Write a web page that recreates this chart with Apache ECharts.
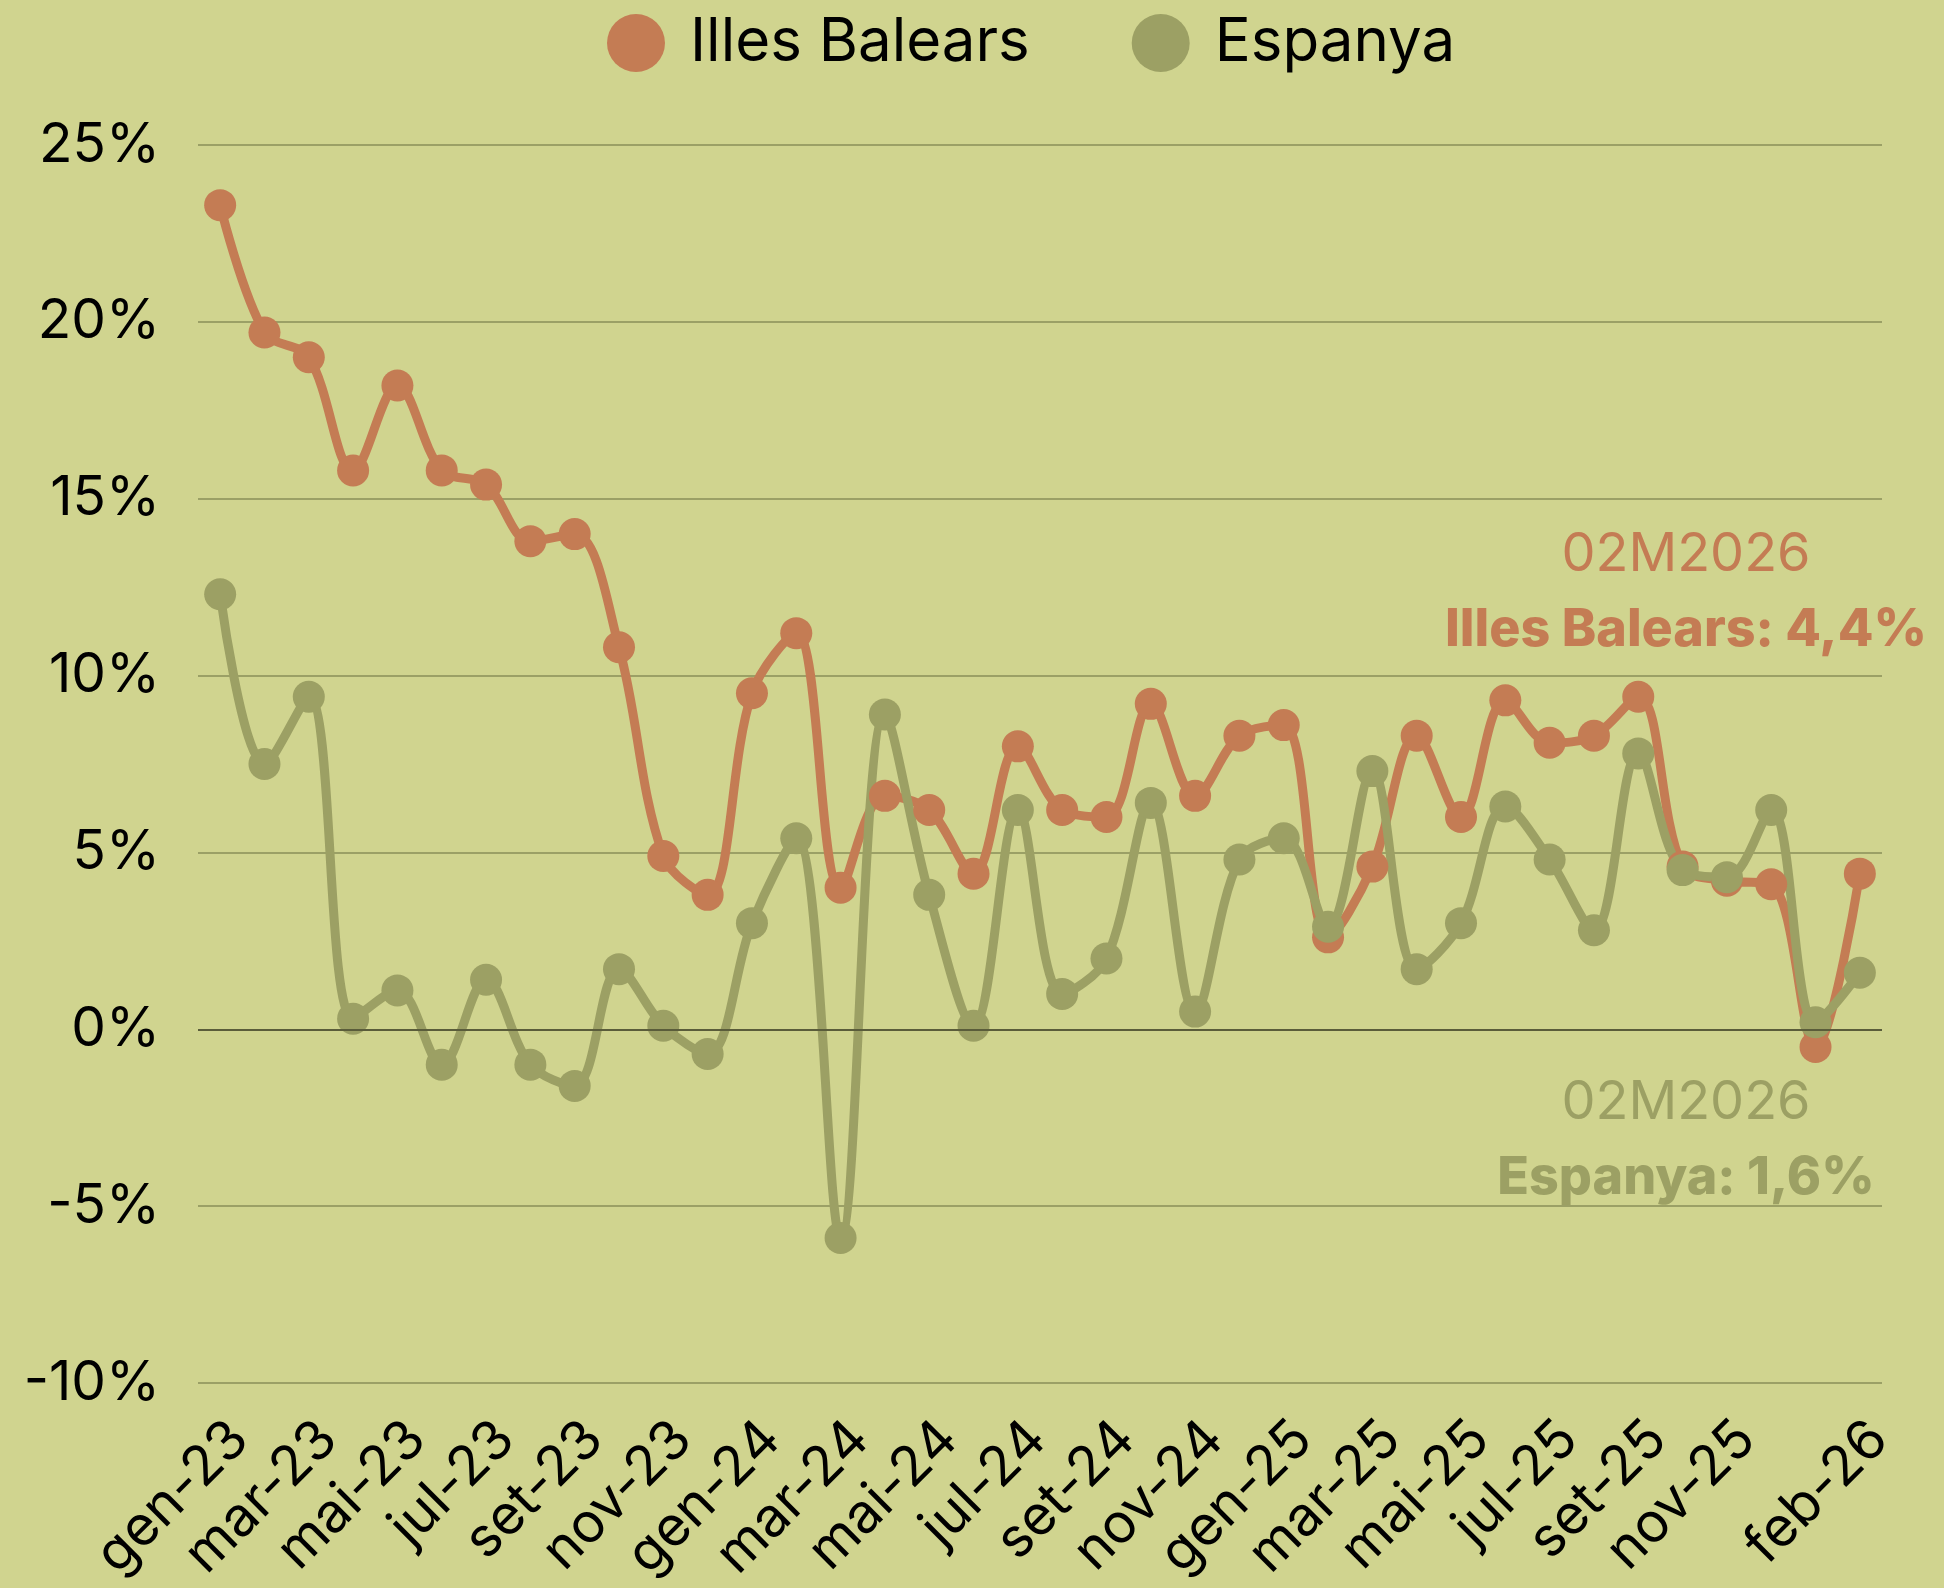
<!DOCTYPE html>
<html>
<head>
<meta charset="utf-8">
<script src="https://cdn.jsdelivr.net/npm/echarts@6/dist/echarts.min.js"></script>
<style>
  html, body { margin: 0; padding: 0; background: #d0d48f; }
  #chart { width: 1944px; height: 1588px; }
</style>
</head>
<body>
<div id="chart"></div>
<script>
  const months = ['gen-23','feb-23','mar-23','abr-23','mai-23','jun-23','jul-23','ago-23','set-23','oct-23','nov-23','des-23',
    'gen-24','feb-24','mar-24','abr-24','mai-24','jun-24','jul-24','ago-24','set-24','oct-24','nov-24','des-24',
    'gen-25','feb-25','mar-25','abr-25','mai-25','jun-25','jul-25','ago-25','set-25','oct-25','nov-25','des-25',
    'gen-26','feb-26']
  const balears = [23.3,19.7,19.0,15.8,18.2,15.8,15.4,13.8,14.0,10.8,4.9,3.8,
    9.5,11.2,4.0,6.6,6.2,4.4,8.0,6.2,6.0,9.2,6.6,8.3,
    8.6,2.6,4.6,8.3,6.0,9.3,8.1,8.3,9.4,4.6,4.2,4.1,
    -0.5,4.4]
  const espanya = [12.3,7.5,9.4,0.3,1.1,-1.0,1.4,-1.0,-1.6,1.7,0.1,-0.7,
    3.0,5.4,-5.9,8.9,3.8,0.1,6.2,1.0,2.0,6.4,0.5,4.8,
    5.4,2.9,7.3,1.7,3.0,6.3,4.8,2.8,7.8,4.5,4.3,6.2,
    0.2,1.6]
  const yTicks = {min: -10, max: 25, step: 5}

  const orange = '#c47c54'
  const green = '#9ca064'
  const font = 'Inter'

  const chart = echarts.init(document.getElementById('chart'))
  chart.setOption({
    backgroundColor: '#d0d48f',
    textStyle: { fontFamily: font },
    legend: {
      top: 8,
      left: 602,
      icon: 'circle',
      itemWidth: 58,
      itemHeight: 58,
      itemGap: 102,
      textStyle: { fontSize: 60, color: '#000', fontFamily: font, padding: [0, 0, 0, 20] },
      data: ['Illes Balears', 'Espanya']
    },
    grid: { left: 198, right: 62, top: 145, bottom: 205 },
    xAxis: {
      type: 'category',
      data: months,
      boundaryGap: true,
      axisLine: { show: false },
      axisTick: { show: false },
      axisLabel: {
        rotate: 45,
        margin: 28,
        fontSize: 55,
        color: '#000',
        verticalAlign: 'top',
        interval: (i) => (i % 2 === 0 && i !== 36) || i === 37
      }
    },
    yAxis: {
      type: 'value',
      min: yTicks.min,
      max: yTicks.max,
      interval: yTicks.step,
      axisLabel: { formatter: '{value}%', fontSize: 55, color: '#000', margin: 38 },
      splitLine: { lineStyle: { color: '#9ba066', width: 2 } }
    },
    graphic: [
      { type: 'text', x: 1686, y: 555, style: { text: '02M2026', fill: orange, font: '400 54px Inter', align: 'center', verticalAlign: 'middle' } },
      { type: 'text', x: 1686, y: 630, style: { text: 'Illes Balears: 4,4%', fill: orange, font: '800 52px Inter', align: 'center', verticalAlign: 'middle' } },
      { type: 'text', x: 1686, y: 1103, style: { text: '02M2026', fill: green, font: '400 54px Inter', align: 'center', verticalAlign: 'middle' } },
      { type: 'text', x: 1686, y: 1178, style: { text: 'Espanya: 1,6%', fill: green, font: '800 52px Inter', align: 'center', verticalAlign: 'middle' } }
    ],
    series: [
      {
        name: 'Illes Balears',
        type: 'line',
        data: balears,
        smooth: 0.35,
        symbol: 'circle',
        symbolSize: 32,
        showAllSymbol: true,
        itemStyle: { color: orange },
        lineStyle: { color: orange, width: 9 },
        markLine: {
          silent: true,
          symbol: 'none',
          label: { show: false },
          lineStyle: { color: '#5a5c3a', width: 2, type: 'solid' },
          data: [{ yAxis: 0 }]
        }
      },
      {
        name: 'Espanya',
        type: 'line',
        data: espanya,
        smooth: 0.35,
        symbol: 'circle',
        symbolSize: 32,
        showAllSymbol: true,
        itemStyle: { color: green },
        lineStyle: { color: green, width: 9 }
      }
    ]
  })
</script>
</body>
</html>
